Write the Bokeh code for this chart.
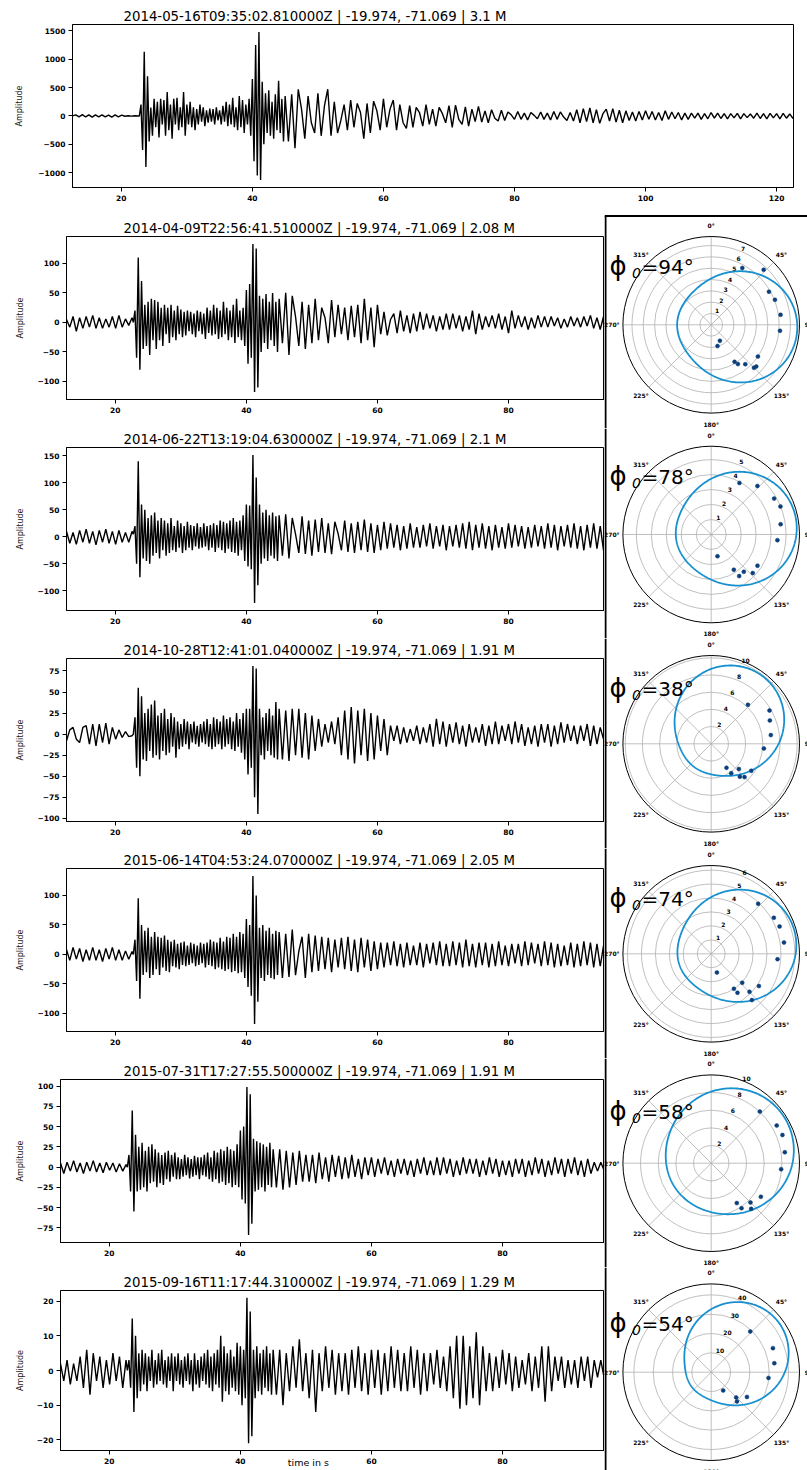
import numpy as np
from bokeh.plotting import figure
from bokeh.layouts import column, row
from bokeh.models import Range1d, FixedTicker, Label
from bokeh.embed import file_html
from bokeh.resources import INLINE
from bokeh.core.properties import value

# ---------------- DATA ----------------
# sample times of the digitised traces (s)
PRE_T0, PRE_DT = 12.55, 0.5
MAIN_T0, MAIN_DT = 22.75, 0.25
CODA_T0, CODA_DT = 45.5, 0.5

titles = [
    "2014-05-16T09:35:02.810000Z | -19.974, -71.069 | 3.1 M",
    "2014-04-09T22:56:41.510000Z | -19.974, -71.069 | 2.08 M",
    "2014-06-22T13:19:04.630000Z | -19.974, -71.069 | 2.1 M",
    "2014-10-28T12:41:01.040000Z | -19.974, -71.069 | 1.91 M",
    "2015-06-14T04:53:24.070000Z | -19.974, -71.069 | 2.05 M",
    "2015-07-31T17:27:55.500000Z | -19.974, -71.069 | 1.91 M",
    "2015-09-16T11:17:44.310000Z | -19.974, -71.069 | 1.29 M",
]

ev1_pre = [0, 20, -15, 22, -18, 20, -20, 18, -15, 20, -18, 15, -20, 18, -15, 15, -5, 3, -3, 2, -2]
ev1_main = [0, 200, -600, 1130, -900, 700, -450, 150, -350, 300,
            -200, 250, -380, 300, -150, 280, -350, 420, -250, 200,
            -400, 300, -150, 320, -250, 150, -200, 420, -350, 200,
            -150, 250, -200, 150, -250, 120, -150, 200, -100, 150,
            -180, 100, -120, 130, -100, 120, -150, 150, -80, 100,
            -150, 180, -100, 250, -180, 200, -150, 320, -200, 150,
            -250, 350, -200, 280, -300, 200, -150, 300, -350, 650,
            -800, 1250, -1050, 1480, -1130, 600, -500, 400, -300, 450,
            -350, 250, -400, 380, -250, 620, -300, 300, -450, 350]
ev1_coda = [-450, 380, -570, 470, 120, -400, 350, -120, -300, 400,
            -350, 180, 470, -350, 250, -300, -80, 200, -250, 280,
            -200, 220, 60, -400, 220, -300, 260, 90, -250, 300,
            -200, 120, 280, -250, 200, -120, -220, 180, -200, 150,
            60, -180, 200, -150, 120, -180, 150, 40, -120, 180,
            -200, 190, -60, -150, 160, -180, 120, -100, 170, -110,
            90, -120, 110, -40, -90, 100, -80, 70, 20, -60,
            80, -60, 50, -70, 60, 10, -50, 70, -60, 50,
            -70, 80, -60, 70, -20, -80, 60, -90, 110, -120,
            130, -100, 140, -120, 110, -130, 40, 120, -90, 130,
            -110, 100, -120, 90, -80, 70, -90, 80, -70, 90,
            -60, 80, -70, 60, -80, 90, -60, 70, -50, 60,
            -70, 50, -60, 50, -40, 50, -60, 40, -50, 60,
            -40, 50, -45, 40, -50, 40, -35, 45, -50, 40,
            -30, 35, -40, 50, -45, 40, -50, 45, -35, 40,
            -50, 45, -40, 35, -45]

ev2_pre = [5, -8, 10, -15, 8, -10, 10, -8, 12, -10, 8, -10, 6, -8, 10, -10, 12, -8, 6, -5, 8]
ev2_main = [0, 20, -60, 110, -80, 70, -45, 30, -40, 35,
            -55, 40, -30, 38, -45, 35, -30, 25, -40, 30,
            -20, 25, -35, 30, -25, 20, -30, 28, -20, 22,
            -25, 18, -22, 20, -15, 18, -20, 15, -25, 20,
            -15, 18, -20, 15, -28, 25, -18, 20, -22, 30,
            -20, 25, -28, 20, -25, 35, -20, 25, -30, 20,
            -25, 30, -35, 40, -25, 20, -30, 25, -40, 55,
            -70, 65, -60, 133, -118, 125, -110, 45, -50, 40,
            -35, 48, -45, 35, -30, 50, -40, 35, -50, 40]
ev2_coda = [-35, 50, -55, 45, 10, -40, 35, -45, 30, -35,
            40, -30, 25, 8, -35, 38, -25, 30, -20, 25,
            -30, 28, -25, 30, -35, 40, -30, 25, -42, 30,
            -20, 18, -22, 5, 15, -18, 20, -15, 12, -18,
            15, -15, 18, -12, 15, -10, 12, -15, 10, -12,
            15, -12, 15, -10, 12, -15, 10, -12, 20, -20,
            15, -12, 10, -8, 12, -10, 15, -12, 10, -18,
            20, -10, 12, -8, 10, -12, 8, -10, 12, -8,
            10, -8, 10, -6, 8, -10, 6, -8, 10, -6,
            8, -8, 10, -6, 12, -10, 8, -12, 10, -8, 6]

ev3_pre = [10, -12, 8, -14, 12, -10, 14, -12, 10, -15, 12, -10, 14, -12, 10, -14, 12, -10, 8, -10, 10]
ev3_main = [5, 20, -50, 140, -75, 60, -40, 50, -45, 35,
            -50, 40, -35, 45, -30, 30, -40, 35, -25, 30,
            -35, 25, -30, 35, -25, 20, -28, 30, -20, 25,
            -30, 20, -25, 28, -20, 22, -25, 20, -18, 25,
            -22, 18, -20, 25, -18, 20, -25, 22, -20, 25,
            -28, 22, -20, 30, -25, 28, -30, 25, -22, 30,
            -28, 35, -30, 28, -35, 30, -25, 40, -45, 60,
            -55, 58, -60, 152, -123, 110, -90, 60, -50, 45,
            -40, 50, -45, 40, -35, 45, -40, 38, -45, 40]
ev3_coda = [-35, 42, -40, 35, 5, -30, 38, -32, 30, -35,
            32, -28, 35, -30, 25, -32, 28, 6, -25, 30,
            -28, 25, -30, 28, -25, 32, -28, 25, -30, 22,
            -25, 28, -22, 25, -20, 22, -25, 20, -22, 25,
            -20, 18, -20, 22, -18, 25, -22, 20, -18, 22,
            -25, 20, -18, 22, -20, 25, -22, 28, -25, 22,
            -20, 25, -22, 20, -25, 22, -20, 18, -22, 25,
            -20, 22, -18, 20, -22, 18, -20, 22, -18, 20,
            -22, 25, -20, 22, -25, 20, -18, 22, -20, 25,
            -22, 20, -25, 22, -20, 25, -22, 20, -25, 22, -18]

ev4_pre = [-8, 5, 8, -6, -10, 8, 10, -12, 12, -14, 12, -10, 13, -12, 8, -6, 5, -4, 3, -3, -2]
ev4_main = [0, 20, -40, 55, -50, 45, -30, 25, -32, 30,
            -20, 35, -28, 40, -25, 22, -30, 25, -20, 30,
            -25, 18, -22, 25, -15, 20, -28, 15, -18, 12,
            -15, 18, -12, 15, -18, 12, -10, 15, -12, 10,
            -15, 12, -10, 15, -12, 18, -15, 12, -18, 20,
            -15, 18, -12, 15, -18, 22, -15, 18, -12, 20,
            -18, 15, -20, 25, -15, 18, -22, 25, -30, 30,
            -48, 30, -40, 81, -75, 78, -95, 30, -25, 20,
            -30, 25, -20, 30, -25, 22, -28, 38, -30, 30]
ev4_coda = [-30, 28, -32, 30, -25, 30, -28, 25, -30, 22,
            -20, 18, -15, 12, -10, 15, -12, 20, -25, 28,
            -30, 32, -35, 28, -25, 30, -32, 25, -30, 22,
            -20, 18, -25, 10, -8, 10, -12, 8, -10, 6,
            -8, 10, -12, 8, -10, 12, -15, 18, -12, 15,
            -15, 12, -10, 14, -12, 10, -15, 12, -10, 8,
            -10, 12, -14, 10, -12, 15, -12, 10, -8, 12,
            -12, 15, -10, 12, -14, 8, -12, 10, -15, 12,
            -10, 12, -15, 10, -12, 14, -10, 12, -8, 10,
            -12, 10, -8, 12, -14, 10, -12, 8, -6, 8, -5]

ev5_pre = [8, -10, 12, -8, 10, -12, 8, -10, 12, -10, 8, -12, 10, -8, 12, -10, 8, -10, 6, -8, 5]
ev5_main = [0, 25, -45, 95, -75, 50, -35, 40, -30, 45,
            -40, 30, -35, 38, -25, 30, -35, 28, -22, 32,
            -28, 25, -30, 22, -20, 25, -22, 18, -25, 20,
            -18, 22, -20, 15, -18, 20, -15, 18, -20, 15,
            -18, 20, -15, 18, -22, 20, -18, 25, -20, 22,
            -25, 20, -22, 28, -25, 22, -28, 30, -25, 28,
            -30, 35, -28, 30, -32, 38, -30, 35, -40, 60,
            -55, 50, -70, 133, -118, 100, -80, 45, -40, 50,
            -45, 40, -35, 45, -40, 35, -42, 40, -35, 38]
ev5_coda = [-40, 35, -38, 42, -35, 5, 30, -40, 35, -30,
            32, -28, 30, -25, 28, -30, 25, -22, 28, -25,
            30, -28, 25, -30, 28, -22, 25, -28, 22, -25,
            20, -22, 20, -18, 22, -20, 18, -22, 20, -18,
            15, -18, 20, -22, 18, -15, 20, -18, 22, -20,
            18, -20, 22, -18, 20, -22, 25, -20, 18, -22,
            20, -18, 20, -22, 18, -20, 22, -18, 15, -20,
            18, -15, 18, -20, 22, -18, 20, -15, 18, -20,
            22, -18, 20, -22, 18, -20, 15, -18, 20, -22,
            18, -20, 22, -18, 20, -22, 18, -20, 15, -12, 10]

ev6_pre = [5, -8, 6, -5, 8, -6, 5, -8, 6, -5, 8, -6, 5, -7, 6, -4, 5, -6, 4, -5, 3]
ev6_main = [0, 15, -30, 70, -55, 40, -30, 25, -28, 30,
            -25, 20, -30, 25, -20, 28, -18, 22, -25, 18,
            -20, 15, -22, 18, -15, 20, -18, 15, -12, 18,
            -15, 12, -15, 10, -12, 15, -10, 12, -14, 10,
            -12, 14, -10, 12, -15, 12, -10, 15, -12, 18,
            -15, 12, -18, 20, -15, 18, -20, 22, -18, 20,
            -22, 25, -20, 22, -25, 20, -22, 28, -25, 45,
            -40, 50, -45, 99, -84, 90, -70, 35, -30, 32,
            -28, 30, -25, 28, -30, 25, -22, 30, -25, 22]
ev6_coda = [-25, 22, -28, 20, -25, 18, -22, 20, -18, 15,
            -18, 15, -20, 18, -15, 12, -18, 15, -12, 14,
            -15, 12, -14, 15, -12, 10, -15, 12, -10, 12,
            -12, 10, -8, 12, -10, 8, -12, 10, -8, 10,
            -10, 8, -12, 10, -8, 12, -10, 8, -10, 12,
            -10, 12, -8, 10, -12, 8, -10, 12, -8, 10,
            -8, 10, -12, 8, -10, 12, -8, 10, -12, 8,
            -10, 8, -12, 10, -8, 10, -12, 8, -10, 12,
            -8, 10, -12, 8, -10, 12, -8, 10, -12, 10,
            -8, 12, -10, 8, -12, 10, -8, 6, -5, 6, -4]

ev7_pre = [2, -3, 3, -4, 2, -3, 4, -5, 6, -7, 5, -3, 4, -5, 3, -4, 5, -3, 4, -5, 3]
ev7_main = [0, 3, -5, 15, -12, 10, -8, 5, -6, 6,
            -4, 5, -6, 4, -3, 6, -5, 3, -4, 5,
            -3, 6, -4, 3, -5, 4, -3, 5, -6, 4,
            -3, 5, -4, 3, -5, 4, -3, 5, -4, 3,
            -6, 5, -4, 3, -5, 4, -3, 5, -4, 6,
            -5, 4, -6, 5, -4, 6, -5, 10, -9, 7,
            -6, 5, -7, 6, -5, 4, -6, 8, -7, 7,
            -10, 6, -8, 21, -21, 17, -19, 6, -8, 7,
            -6, 5, -7, 6, -5, 7, -6, 5, -7, 6]
ev7_coda = [-7, 6, -10, 5, -6, 7, -5, 9, -6, 5,
            -8, 6, -12, 5, -6, 7, -5, 6, -7, 5,
            -6, 5, -7, 6, -5, 7, -6, 5, -7, 6,
            -5, 6, -7, 5, -6, 7, -5, 6, -6, 5,
            -6, 7, -5, 6, -7, 5, -6, 5, -4, 6,
            -5, 4, -6, 7, -8, 10, -11, 10, -10, 7,
            -8, 11, -10, 7, -6, 5, -6, 4, -5, 6,
            -4, 5, -6, 4, -5, 3, -4, 5, -6, 4,
            -5, 7, -9, 7, -6, 4, -3, 4, -5, 3,
            -4, 3, -5, 4, -3, 4, -5, 3, -2, 3, -2]

x_ticks_top = [20, 40, 60, 80, 100, 120]
x_ticks = [20, 40, 60, 80]
y_ticks = [
    [-1000, -500, 0, 500, 1000, 1500],
    [-100, -50, 0, 50, 100],
    [-100, -50, 0, 50, 100, 150],
    [-100, -75, -50, -25, 0, 25, 50, 75],
    [-100, -50, 0, 50, 100],
    [-75, -50, -25, 0, 25, 50, 75, 100],
    [-20, -10, 0, 10, 20],
]

# polar panels: station azimuth (deg) and measured value, fitted model
phi0 = [94, 78, 38, 74, 58, 54]
pol_rmax = [7.8, 5.9, 10.27, 6.33, 10.0, 45.7]
pol_rticks = [[1, 2, 3, 4, 5, 6, 7], [1, 2, 3, 4, 5], [2, 4, 6, 8, 10],
              [1, 2, 3, 4, 5, 6], [2, 4, 6, 8, 10], [10, 20, 30, 40]]
pol_az = [
    [28.7, 43.6, 60.2, 68.6, 81.8, 95.0, 151.5, 163.5, 147.8, 145.8, 139.1, 135.2, 132.8, 124.2],
    [28.7, 43.6, 60.3, 68.0, 81.6, 94.9, 163.8, 147.3, 146.1, 138.8, 132.9, 124.0],
    [43.3, 60.3, 68.3, 81.7, 95.1, 147.5, 145.7, 132.4, 139.0, 135.0, 124.0],
    [43.2, 60.1, 68.2, 81.2, 94.6, 163.0, 147.0, 146.0, 133.0, 134.8, 138.7, 124.1],
    [43.3, 60.1, 68.4, 81.5, 94.9, 147.3, 146.0, 135.0, 138.8, 124.1],
    [43.8, 68.7, 81.9, 95.7, 146.7, 135.3, 138.7, 124.7],
]
pol_r = [
    [5.72, 6.72, 5.88, 6.05, 6.19, 6.10, 1.61, 1.96, 3.87, 4.20, 4.60, 5.36, 5.42, 4.99],
    [3.93, 4.48, 4.84, 4.99, 4.69, 4.44, 1.51, 2.80, 3.35, 3.31, 3.79, 3.73],
    [6.23, 7.81, 7.34, 7.01, 6.15, 3.31, 4.13, 4.36, 5.08, 5.48, 5.62],
    [4.92, 5.18, 5.28, 5.28, 4.77, 1.40, 2.99, 3.37, 3.04, 3.87, 4.42, 4.13],
    [8.03, 8.56, 8.68, 8.43, 7.95, 5.37, 6.14, 6.29, 6.87, 6.79],
    [29.2, 34.3, 33.0, 29.8, 11.3, 18.4, 20.2, 22.5],
]
# fitted model r = a + b cos(az - phi0) + c cos(2 (az - phi0))
fit_a = [4.78, 3.70, 5.98, 3.89, 6.99, 24.6]
fit_b = [2.30, 1.70, 3.27, 1.89, 2.42, 15.4]
fit_c = [0.53, 0.36, 0.63, 0.41, 0.37, 3.39]

traces = [
    (ev1_pre, ev1_main, ev1_coda), (ev2_pre, ev2_main, ev2_coda),
    (ev3_pre, ev3_main, ev3_coda), (ev4_pre, ev4_main, ev4_coda),
    (ev5_pre, ev5_main, ev5_coda), (ev6_pre, ev6_main, ev6_coda),
    (ev7_pre, ev7_main, ev7_coda),
]

# ---------------- STYLE / LAYOUT ----------------
FONT = "DejaVu Sans"
PX_PER_S = 6.553
FRAME_H = 163
X0 = 12.55
ROW_TOPS = [0, 211, 428, 638, 848, 1058, 1267, 1470]
FRAME_OFF = [24, 25, 19, 20, 20, 21, 23]
LEFTS = [72, 66, 66, 66, 66, 60, 60]
YLAB_STANDOFF = [11, 10, 10, 10, 10, 9, 9]


def no_align(p):
    try:
        p.frame_align = False
    except Exception:
        pass


def build_trace(pre, main, coda):
    t = np.concatenate([PRE_T0 + PRE_DT * np.arange(len(pre)),
                        MAIN_T0 + MAIN_DT * np.arange(len(main)),
                        CODA_T0 + CODA_DT * np.arange(len(coda))])
    v = np.array(list(pre) + list(main) + list(coda), dtype=float)
    return t, v


def minus_overrides(ticks):
    return {t: ("\u2212" + str(abs(t))) for t in ticks if t < 0}


def seis_fig(k, width, right, xticks, xlabel=False):
    height = ROW_TOPS[k + 1] - ROW_TOPS[k]
    left = LEFTS[k]
    top = FRAME_OFF[k]
    bottom = height - top - FRAME_H
    t, v = build_trace(*traces[k])
    frame_w = width - left - right
    pad = 0.05 * (v.max() - v.min())
    p = figure(width=width, height=height,
               x_range=Range1d(X0, X0 + frame_w / PX_PER_S),
               y_range=Range1d(v.min() - pad, v.max() + pad),
               output_backend="svg", toolbar_location=None,
               min_border_left=left, min_border_right=right,
               min_border_top=top, min_border_bottom=bottom)
    no_align(p)
    p.line(t, v, color="black", line_width=1.4)
    p.xgrid.visible = False
    p.ygrid.visible = False
    p.outline_line_color = "black"
    p.outline_line_width = 1
    p.background_fill_color = "white"
    p.border_fill_color = "white"
    p.xaxis.ticker = FixedTicker(ticks=xticks)
    p.yaxis.ticker = FixedTicker(ticks=y_ticks[k])
    p.yaxis.major_label_overrides = minus_overrides(y_ticks[k])
    for ax in (p.xaxis[0], p.yaxis[0]):
        ax.major_label_text_font = FONT
        ax.major_label_text_font_style = "bold"
        ax.major_label_text_font_size = "7.5px"
        ax.major_label_text_color = "black"
        ax.major_tick_out = 4
        ax.major_tick_in = 0
        ax.minor_tick_out = 0
        ax.minor_tick_in = 0
        ax.major_label_standoff = 3
        ax.axis_line_color = "black"
        ax.major_tick_line_color = "black"
    p.title.text = titles[k]
    p.title.align = "left"
    p.title.offset = 123 - left
    p.title.text_font = FONT
    p.title.text_font_size = "13.3px"
    p.title.text_font_style = "normal"
    p.title.text_color = "black"
    p.title.standoff = 1
    ya = p.yaxis[0]
    ya.axis_label = "Amplitude"
    ya.axis_label_text_font = FONT
    ya.axis_label_text_font_size = "8px"
    ya.axis_label_text_font_style = "normal"
    ya.axis_label_text_color = "#222222"
    ya.axis_label_standoff = YLAB_STANDOFF[k]
    if xlabel:
        xa = p.xaxis[0]
        xa.axis_label = "time in s" + "\u00a0" * 16
        xa.axis_label_text_font = FONT
        xa.axis_label_text_font_size = "9.5px"
        xa.axis_label_text_font_style = "normal"
        xa.axis_label_text_color = "black"
        xa.axis_label_standoff = -10
    return p


POL_W = 203
POL_R = 88.3
POL_CX = 106.7
POL_CY_ABS = [324.3, 534.0, 743.3, 953.3, 1162.7, 1371.7]
PHI_BASE_ABS = [266, 476, 688, 898, 1111, 1323]


def polar_fig(i, top_line):
    k = i + 1
    height = ROW_TOPS[k + 1] - ROW_TOPS[k]
    cy = POL_CY_ABS[i] - ROW_TOPS[k]
    rmax = pol_rmax[i]
    R = POL_R
    p = figure(width=POL_W, height=height,
               x_range=Range1d(-POL_CX / R, (POL_W - POL_CX) / R),
               y_range=Range1d(-(height - cy) / R, cy / R),
               output_backend="svg", toolbar_location=None,
               min_border=0, x_axis_location=None, y_axis_location=None)
    no_align(p)
    p.grid.visible = False
    p.outline_line_color = None
    p.background_fill_color = "white"
    p.border_fill_color = "white"
    grey = "#b0b0b0"
    for tk in pol_rticks[i]:
        if tk < rmax:
            p.circle(x=[0], y=[0], radius=tk / rmax, fill_color=None,
                     line_color=grey, line_width=0.8)
    angs = np.deg2rad(np.arange(0, 360, 45))
    p.segment(x0=np.zeros(8), y0=np.zeros(8), x1=np.sin(angs), y1=np.cos(angs),
              line_color=grey, line_width=0.8)
    p.circle(x=[0], y=[0], radius=1.0, fill_color=None, line_color="black", line_width=1)
    labs = ["%d\u00b0" % a for a in range(0, 360, 45)]
    p.text(x=1.125 * np.sin(angs), y=1.125 * np.cos(angs), text=labs,
           text_font=value(FONT), text_font_size="6px", text_font_style="bold",
           text_align="center", text_baseline="middle", text_color="black")
    rl = [tk for tk in pol_rticks[i] if tk <= rmax + 1e-9]
    ra = np.deg2rad(22.5)
    rr = np.array([tk / rmax for tk in rl]) + 3.8 / R
    p.text(x=rr * np.sin(ra), y=rr * np.cos(ra), text=[str(tk) for tk in rl],
           text_font=value(FONT), text_font_size="6px", text_font_style="bold",
           text_align="center", text_baseline="middle", text_color="black")
    th = np.deg2rad(np.linspace(0, 360, 361))
    d = th - np.deg2rad(phi0[i])
    rf = fit_a[i] + fit_b[i] * np.cos(d) + fit_c[i] * np.cos(2 * d)
    p.line(rf / rmax * np.sin(th), rf / rmax * np.cos(th), line_color="#1790d0", line_width=1.8)
    az = np.deg2rad(np.array(pol_az[i]))
    r = np.array(pol_r[i]) / rmax
    p.scatter(r * np.sin(az), r * np.cos(az), size=4, fill_color="#0b3f7a",
              line_color="#0b3f7a", line_width=0.5)
    xl = -POL_CX / R + 1.0 / R
    ytop = cy / R - (4.5 / R if top_line else 0)
    p.segment(x0=[xl], y0=[ytop], x1=[xl], y1=[-(height - cy) / R],
              line_color="black", line_width=2)
    if top_line:
        p.segment(x0=[-POL_CX / R], y0=[ytop], x1=[(POL_W - POL_CX) / R], y1=[ytop],
                  line_color="black", line_width=2)
    base = ROW_TOPS[k + 1] - PHI_BASE_ABS[i]
    p.add_layout(Label(x=5, y=base + 1, x_units="screen", y_units="screen", text="\u03d5",
                       text_font=FONT, text_font_size="26px", text_color="black",
                       text_baseline="alphabetic", text_align="left"))
    p.add_layout(Label(x=27.5, y=base - 6, x_units="screen", y_units="screen", text="0",
                       text_font=FONT, text_font_size="14px", text_font_style="italic",
                       text_color="black", text_baseline="alphabetic", text_align="left"))
    p.add_layout(Label(x=37, y=base, x_units="screen", y_units="screen",
                       text="=%d\u00b0" % phi0[i], text_font=FONT, text_font_size="20px",
                       text_color="black", text_baseline="alphabetic", text_align="left"))
    return p


rows = [seis_fig(0, 807, 14, x_ticks_top)]
for i in range(6):
    k = i + 1
    s = seis_fig(k, 604, 0, x_ticks, xlabel=(k == 6))
    pp = polar_fig(i, top_line=(i == 0))
    rows.append(row(s, pp))

layout = column(*rows)
open("out.html", "w").write(file_html(layout, INLINE, title="seismograms"))
